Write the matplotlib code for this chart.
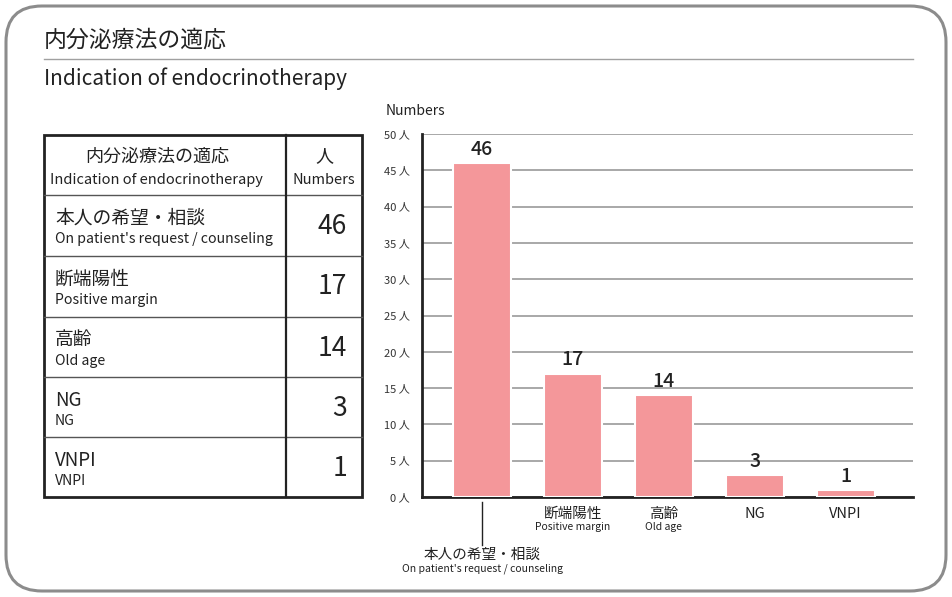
import matplotlib
matplotlib.use("Agg")
import matplotlib.pyplot as plt
from matplotlib.patches import FancyBboxPatch

plt.rcParams['font.family'] = ['Noto Sans CJK JP', 'DejaVu Sans']

# データ
cats_jp = ["本人の希望・相談", "断端陽性", "高齢", "NG", "VNPI"]
cats_en = ["On patient's request / counseling", "Positive margin", "Old age", "NG", "VNPI"]
values = [46, 17, 14, 3, 1]
yticks = [0, 5, 10, 15, 20, 25, 30, 35, 40, 45, 50]

title_jp = "内分泌療法の適応"
title_en = "Indication of endocrinotherapy"

W, H = 952, 597
fig = plt.figure(figsize=(W / 100, H / 100), dpi=100)

# 全体用の座標系（ピクセル）
bg = fig.add_axes([0, 0, 1, 1])
bg.set_xlim(0, W)
bg.set_ylim(H, 0)
bg.axis('off')

frame = FancyBboxPatch((6, 6), W - 12, H - 12, boxstyle="round,pad=0,rounding_size=36",
                       fc='white', ec='#8c8c8c', lw=2.2)
bg.add_patch(frame)

bg.text(44, 40, title_jp, fontsize=16.5, va='center', ha='left', color='#222222')
bg.plot([44, 913], [59, 59], color='#a0a0a0', lw=1)
bg.text(44, 79, title_en, fontsize=15, va='center', ha='left', color='#222222')

# 表
tx0, tx1, tsplit = 44, 362, 286
ty = [135, 195, 256, 317, 377, 437, 497]
for y in ty[1:-1]:
    bg.plot([tx0, tx1], [y, y], color='#555555', lw=1)
bg.plot([tsplit, tsplit], [ty[0], ty[-1]], color='#222222', lw=1.6)
bg.add_patch(plt.Rectangle((tx0, ty[0]), tx1 - tx0, ty[-1] - ty[0], fill=False,
                           ec='#222222', lw=2))

bg.text(157, 157, title_jp, fontsize=13, ha='center', va='center', color='#222222')
bg.text(156, 180, title_en, fontsize=10.5, ha='center', va='center', color='#222222')
bg.text((tsplit + tx1) / 2, 156, "人", fontsize=13, ha='center', va='center', color='#222222')
bg.text((tsplit + tx1) / 2, 180, "Numbers", fontsize=10.5, ha='center', va='center', color='#222222')

for i, (jp, en, v) in enumerate(zip(cats_jp, cats_en, values)):
    top = ty[i + 1]
    bg.text(55, top + 23, jp, fontsize=13.5, ha='left', va='center', color='#222222')
    bg.text(55, top + 44, en, fontsize=10.2, ha='left', va='center', color='#222222')
    bg.text(347, top + 31, str(v), fontsize=19, ha='right', va='center', color='#222222')

# 棒グラフ
ax = fig.add_axes([422 / W, (H - 497) / H, (913 - 422) / W, (497 - 134) / H])
x = list(range(len(values)))
ax.bar(x, values, width=0.64, color='#f4979a', edgecolor='white', lw=1.5, zorder=3)
ax.set_xlim(-0.66, 4.74)
ax.set_ylim(0, 50)
ax.set_yticks(yticks)
ax.set_yticklabels([f"{t} 人" for t in yticks], fontsize=8, color='#333333')
ax.tick_params(axis='y', length=0, pad=9)
ax.set_xticks([])
ax.grid(axis='y', color='#9a9a9a', lw=1.2, zorder=0)
ax.set_axisbelow(True)
for s in ['top', 'right']:
    ax.spines[s].set_visible(False)
ax.spines['left'].set_linewidth(2)
ax.spines['bottom'].set_linewidth(2)
ax.spines['left'].set_color('#222222')
ax.spines['bottom'].set_color('#222222')

for xi, v in zip(x, values):
    ax.annotate(str(v), (xi, v), xytext=(0, 3), textcoords='offset points',
                ha='center', va='bottom', fontsize=14, fontweight='medium',
                color='#222222', zorder=4)

tr = ax.get_xaxis_transform()
for xi, jp, en in zip(x[1:], cats_jp[1:], cats_en[1:]):
    ax.text(xi, -0.047, jp, transform=tr, ha='center', va='center', fontsize=10.5, color='#222222')
    if en != jp:
        ax.text(xi, -0.083, en, transform=tr, ha='center', va='center', fontsize=7.5, color='#222222')
ax.plot([0, 0], [-0.014, -0.132], transform=tr, color='#222222', lw=1, clip_on=False)
ax.text(0, -0.160, cats_jp[0], transform=tr, ha='center', va='center', fontsize=10.5, color='#222222')
ax.text(0, -0.198, cats_en[0], transform=tr, ha='center', va='center', fontsize=7.5, color='#222222')

fig.text(386 / W, 1 - 111 / H, "Numbers", fontsize=10, ha='left', va='center', color='#222222')

fig.savefig("out.png", dpi=100)
